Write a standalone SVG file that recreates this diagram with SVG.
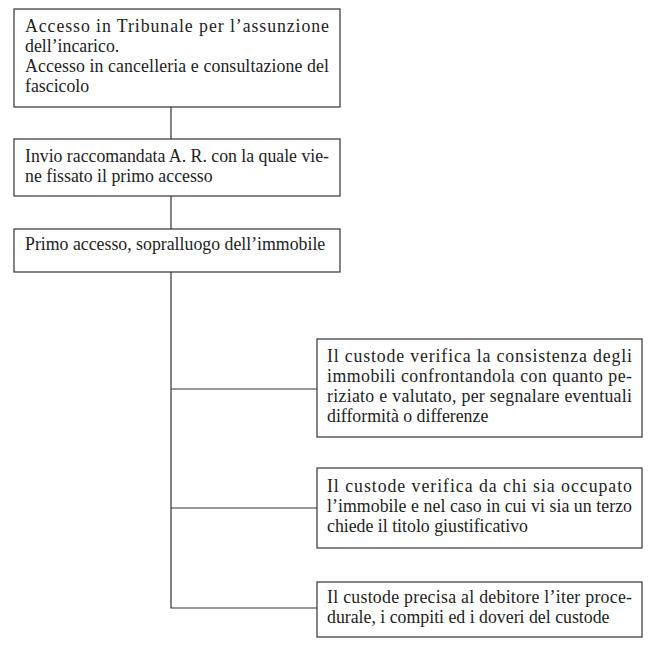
<svg xmlns="http://www.w3.org/2000/svg" width="652" height="669" viewBox="0 0 652 669">
<style>
.box{fill:#fff;stroke:#333;stroke-width:1.2}
.t{font-family:"Liberation Serif","Times New Roman",serif;font-size:17.8px;fill:#222}
.c{fill:none;stroke:#333;stroke-width:1.2}
</style>
<rect width="652" height="669" fill="#fff"/>
<g id="connectors">
<line class="c" x1="171" y1="107" x2="171" y2="139"/>
<line class="c" x1="171" y1="196" x2="171" y2="229"/>
<polyline class="c" points="171,272 171,608 317,608"/>
<line class="c" x1="171" y1="389" x2="317" y2="389"/>
<line class="c" x1="171" y1="508" x2="317" y2="508"/>
</g>
<g id="n1">
<rect class="box" x="14" y="9" width="326" height="98"/>
<text class="t" x="25" y="32" textLength="304" lengthAdjust="spacing">Accesso in Tribunale per l’assunzione</text>
<text class="t" x="25" y="52">dell’incarico.</text>
<text class="t" x="25" y="72" textLength="304" lengthAdjust="spacing">Accesso in cancelleria e consultazione del</text>
<text class="t" x="25" y="92">fascicolo</text>
</g>
<g id="n2">
<rect class="box" x="14" y="139" width="326" height="57"/>
<text class="t" x="25" y="162" textLength="304" lengthAdjust="spacing">Invio raccomandata A. R. con la quale vie-</text>
<text class="t" x="25" y="182">ne fissato il primo accesso</text>
</g>
<g id="n3">
<rect class="box" x="14" y="229" width="326" height="43"/>
<text class="t" x="25" y="250">Primo accesso, sopralluogo dell’immobile</text>
</g>
<g id="n4">
<rect class="box" x="317" y="339" width="325" height="98"/>
<text class="t" x="327" y="362" textLength="305" lengthAdjust="spacing">Il custode verifica la consistenza degli</text>
<text class="t" x="327" y="382" textLength="305" lengthAdjust="spacing">immobili confrontandola con quanto pe-</text>
<text class="t" x="327" y="402" textLength="305" lengthAdjust="spacing">riziato e valutato, per segnalare eventuali</text>
<text class="t" x="327" y="422">difformità o differenze</text>
</g>
<g id="n5">
<rect class="box" x="317" y="468" width="325" height="80"/>
<text class="t" x="327" y="492" textLength="305" lengthAdjust="spacing">Il custode verifica da chi sia occupato</text>
<text class="t" x="327" y="512" textLength="305" lengthAdjust="spacing">l’immobile e nel caso in cui vi sia un terzo</text>
<text class="t" x="327" y="532">chiede il titolo giustificativo</text>
</g>
<g id="n6">
<rect class="box" x="317" y="582" width="325" height="55"/>
<text class="t" x="327" y="603" textLength="305" lengthAdjust="spacing">Il custode precisa al debitore l’iter proce-</text>
<text class="t" x="327" y="623">durale, i compiti ed i doveri del custode</text>
</g>
</svg>
